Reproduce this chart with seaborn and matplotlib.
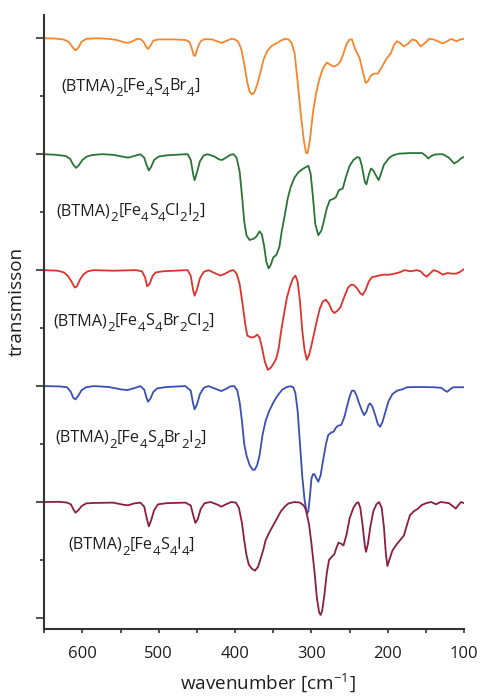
import pandas as pd
import seaborn as sns
import matplotlib.pyplot as plt
from matplotlib.ticker import MultipleLocator

# far-IR spectra: wavenumber [cm-1] and transmission relative to each baseline
wn_br4 = [650, 635, 625, 618, 613, 609, 605, 601, 595, 580, 565, 555, 545, 540, 534, 528, 523, 519, 516,
          514, 511, 507, 500, 480, 465, 460, 457, 454, 452, 449, 445, 440, 430, 424, 418, 412, 405, 400,
          396, 392, 388, 384, 381, 378, 375, 371, 367, 363, 358, 352, 346, 340, 335, 330, 326, 322, 318,
          314, 310, 307, 305, 302, 298, 294, 290, 285, 280, 276, 271, 266, 262, 258, 254, 250, 247, 243,
          240, 237, 233, 229, 226, 222, 218, 213, 208, 202, 196, 192, 188, 184, 179, 174, 168, 163, 157,
          152, 146, 140, 133, 128, 122, 117, 110, 105, 100]
t_br4 = [0, -0.003, -0.01, -0.03, -0.075, -0.105, -0.08, -0.03, -0.005, 0, -0.005, -0.015, -0.035, -0.04,
         -0.025, -0.005, -0.01, -0.04, -0.08, -0.092, -0.065, -0.02, -0.01, -0.01, -0.015, -0.03, -0.08,
         -0.15, -0.15, -0.08, -0.025, -0.008, -0.01, -0.025, -0.04, -0.025, -0.005, -0.01, -0.03, -0.09,
         -0.22, -0.38, -0.46, -0.485, -0.47, -0.4, -0.3, -0.19, -0.11, -0.065, -0.045, -0.02, -0.005,
         -0.01, -0.04, -0.13, -0.38, -0.65, -0.88, -0.99, -0.99, -0.88, -0.64, -0.48, -0.36, -0.26,
         -0.21, -0.225, -0.245, -0.23, -0.2, -0.13, -0.05, -0.01, -0.01, -0.09, -0.13, -0.17, -0.28,
         -0.385, -0.37, -0.32, -0.305, -0.305, -0.25, -0.18, -0.13, -0.06, -0.025, -0.04, -0.07, -0.05,
         -0.01, -0.02, -0.07, -0.045, -0.005, -0.01, -0.03, -0.045, -0.025, -0.005, -0.025, -0.01, -0.005]

wn_cli = [650, 635, 622, 616, 612, 608, 604, 600, 594, 588, 575, 560, 548, 540, 532, 524, 519, 516, 513,
          510, 506, 500, 490, 470, 462, 458, 455, 453, 450, 446, 441, 436, 427, 421, 417, 412, 406, 402,
          398, 394, 391, 388, 385, 381, 376, 372, 368, 365, 362, 359, 356, 353, 350, 346, 342, 339, 335,
          331, 327, 322, 317, 312, 307, 304, 301, 298, 295, 291, 287, 284, 280, 276, 271, 268, 264, 259,
          255, 250, 245, 240, 237, 234, 230, 228, 225, 222, 219, 215, 212, 209, 205, 198, 193, 185, 170,
          155, 150, 147, 143, 138, 128, 120, 113, 108, 104, 100]
t_cli = [0, -0.005, -0.015, -0.04, -0.09, -0.118, -0.09, -0.05, -0.02, -0.008, 0, -0.005, -0.02, -0.03,
         -0.015, 0, -0.03, -0.09, -0.14, -0.11, -0.05, -0.02, -0.01, -0.002, 0, -0.05, -0.17, -0.224,
         -0.16, -0.06, -0.01, 0, -0.02, -0.045, -0.05, -0.03, -0.005, 0, -0.03, -0.15, -0.353, -0.58,
         -0.7, -0.74, -0.73, -0.71, -0.665, -0.69, -0.79, -0.93, -0.985, -0.95, -0.89, -0.87, -0.8,
         -0.67, -0.53, -0.38, -0.28, -0.2, -0.155, -0.13, -0.11, -0.1, -0.17, -0.37, -0.6, -0.698,
         -0.66, -0.584, -0.47, -0.397, -0.385, -0.37, -0.31, -0.296, -0.2, -0.1, -0.05, -0.025, -0.03,
         -0.1, -0.24, -0.26, -0.18, -0.123, -0.14, -0.19, -0.224, -0.17, -0.09, -0.03, -0.009, 0.005,
         0.01, 0.01, -0.015, -0.037, -0.015, -0.002, 0, -0.03, -0.08, -0.06, -0.035, -0.023]

wn_brcl = [650, 632, 624, 619, 614, 610, 607, 603, 599, 593, 585, 560, 530, 522, 518, 515, 512, 508, 504,
           495, 470, 462, 458, 455, 453, 450, 446, 441, 435, 425, 419, 413, 406, 402, 398, 394, 390, 387,
           384, 379, 375, 371, 368, 365, 361, 357, 353, 349, 346, 343, 340, 336, 332, 328, 324, 321, 318,
           315, 312, 309, 306, 303, 300, 297, 293, 289, 285, 281, 277, 273, 270, 266, 262, 257, 252, 248,
           244, 240, 236, 233, 229, 225, 221, 214, 206, 199, 193, 185, 178, 170, 162, 157, 152, 149, 145,
           140, 135, 128, 122, 116, 110, 104, 100]
t_brcl = [0, -0.005, -0.02, -0.05, -0.1, -0.15, -0.14, -0.08, -0.04, -0.01, 0, -0.005, 0, -0.01, -0.06,
          -0.14, -0.12, -0.05, -0.02, -0.01, -0.002, 0, -0.05, -0.17, -0.22, -0.17, -0.07, -0.015, 0,
          -0.03, -0.047, -0.03, -0.005, 0, -0.03, -0.12, -0.3, -0.45, -0.565, -0.58, -0.578, -0.556,
          -0.58, -0.66, -0.79, -0.86, -0.84, -0.8, -0.76, -0.68, -0.54, -0.38, -0.234, -0.14, -0.07,
          -0.047, -0.1, -0.27, -0.52, -0.69, -0.774, -0.73, -0.65, -0.56, -0.44, -0.33, -0.27, -0.255,
          -0.29, -0.35, -0.37, -0.35, -0.32, -0.23, -0.15, -0.125, -0.13, -0.16, -0.2, -0.214, -0.17,
          -0.1, -0.062, -0.05, -0.039, -0.04, -0.033, -0.02, 0, -0.01, 0, -0.01, -0.045, -0.056, -0.03,
          0, -0.01, -0.039, -0.025, -0.03, -0.03, -0.01, 0.01]

wn_bri = [650, 630, 620, 615, 612, 609, 605, 601, 595, 585, 565, 548, 541, 533, 524, 519, 516, 514, 511,
          507, 502, 490, 465, 458, 455, 453, 450, 446, 441, 435, 425, 418, 412, 406, 401, 397, 394, 391,
          388, 385, 381, 377, 374, 371, 368, 364, 360, 355, 349, 343, 338, 333, 328, 324, 321, 318, 315,
          312, 309, 306, 304, 302, 300, 298, 296, 294, 291, 288, 285, 281, 278, 274, 271, 268, 265, 261,
          257, 254, 250, 247, 244, 241, 238, 234, 231, 228, 225, 223, 220, 216, 213, 210, 207, 203, 199,
          194, 188, 180, 175, 160, 140, 130, 125, 122, 118, 114, 100]
t_bri = [0, -0.003, -0.01, -0.05, -0.1, -0.115, -0.08, -0.035, -0.01, 0, -0.008, -0.03, -0.034, -0.02, 0,
         -0.03, -0.1, -0.135, -0.11, -0.05, -0.02, -0.008, 0, -0.04, -0.15, -0.2, -0.16, -0.07, -0.015,
         0, -0.025, -0.043, -0.025, -0.002, 0, -0.04, -0.14, -0.3, -0.5, -0.6, -0.68, -0.722, -0.72,
         -0.68, -0.6, -0.42, -0.3, -0.21, -0.13, -0.07, -0.03, -0.01, -0.002, -0.008, -0.06, -0.22,
         -0.5, -0.78, -0.98, -1.1, -1.08, -0.95, -0.8, -0.76, -0.76, -0.79, -0.825, -0.77, -0.65, -0.5,
         -0.422, -0.4, -0.394, -0.36, -0.342, -0.335, -0.27, -0.192, -0.09, -0.04, -0.04, -0.08, -0.14,
         -0.21, -0.25, -0.22, -0.16, -0.149, -0.18, -0.26, -0.33, -0.351, -0.31, -0.22, -0.13, -0.07,
         -0.04, -0.026, -0.01, -0.008, -0.01, -0.015, -0.04, -0.049, -0.025, -0.01, -0.01]

wn_i4 = [650, 630, 620, 615, 612, 609, 605, 601, 595, 585, 560, 545, 540, 532, 524, 519, 516, 513, 510,
         506, 501, 490, 465, 458, 455, 452, 449, 445, 440, 432, 424, 418, 412, 405, 399, 395, 391, 388,
         385, 382, 378, 374, 370, 367, 363, 360, 355, 350, 345, 340, 335, 330, 322, 315, 310, 307, 303,
         300, 296, 293, 290, 288, 286, 283, 280, 277, 273, 270, 267, 264.5, 261, 258, 254, 250, 245, 241,
         238.5, 236, 233, 230, 228.5, 226, 223, 219, 215, 211.5, 208, 205, 202.5, 200.5, 198, 194, 189,
         184, 179, 175, 171, 166, 161, 156, 150, 143, 137, 131, 125, 120, 114, 111, 108, 104, 100]
t_i4 = [0, 0.002, -0.005, -0.02, -0.06, -0.092, -0.07, -0.035, -0.012, -0.008, -0.005, -0.025, -0.028,
        -0.012, -0.005, -0.04, -0.13, -0.21, -0.16, -0.07, -0.02, -0.01, -0.005, -0.03, -0.11, -0.18,
        -0.15, -0.06, -0.01, 0, -0.02, -0.04, -0.02, 0, -0.005, -0.05, -0.18, -0.33, -0.46, -0.54,
        -0.575, -0.592, -0.56, -0.5, -0.41, -0.33, -0.26, -0.2, -0.14, -0.08, -0.04, -0.012, 0, -0.005,
        -0.03, -0.07, -0.2, -0.357, -0.6, -0.82, -0.95, -0.974, -0.94, -0.8, -0.62, -0.5, -0.47, -0.45,
        -0.39, -0.35, -0.36, -0.375, -0.28, -0.14, -0.05, -0.01, -0.003, -0.05, -0.2, -0.38, -0.43,
        -0.36, -0.22, -0.08, -0.02, 0, -0.05, -0.22, -0.45, -0.552, -0.5, -0.42, -0.37, -0.33, -0.29,
        -0.2, -0.114, -0.08, -0.06, -0.028, -0.01, 0, -0.02, 0, -0.005, -0.01, -0.04, -0.057, -0.03, 0,
        -0.01]

# compound labels: (text, is_subscript)
label_br4 = [('(BTMA)', 0), ('2', 1), ('[Fe', 0), ('4', 1), ('S', 0), ('4', 1), ('Br', 0), ('4', 1), (']', 0)]
label_cli = [('(BTMA)', 0), ('2', 1), ('[Fe', 0), ('4', 1), ('S', 0), ('4', 1), ('Cl', 0), ('2', 1),
             ('I', 0), ('2', 1), (']', 0)]
label_brcl = [('(BTMA)', 0), ('2', 1), ('[Fe', 0), ('4', 1), ('S', 0), ('4', 1), ('Br', 0), ('2', 1),
              ('Cl', 0), ('2', 1), (']', 0)]
label_bri = [('(BTMA)', 0), ('2', 1), ('[Fe', 0), ('4', 1), ('S', 0), ('4', 1), ('Br', 0), ('2', 1),
             ('I', 0), ('2', 1), (']', 0)]
label_i4 = [('(BTMA)', 0), ('2', 1), ('[Fe', 0), ('4', 1), ('S', 0), ('4', 1), ('I', 0), ('4', 1), (']', 0)]

offsets = [5, 4, 3, 2, 1]
colors = ['#f5862c', '#2b7436', '#e0322c', '#3b4fb3', '#8c1d44']
spectra = [(wn_br4, t_br4), (wn_cli, t_cli), (wn_brcl, t_brcl), (wn_bri, t_bri), (wn_i4, t_i4)]
labels = [label_br4, label_cli, label_brcl, label_bri, label_i4]
label_pos = [(627.5, 4.552), (633.5, 3.474), (637.5, 2.526), (635, 1.52), (618, 0.595)]

sns.set_style('ticks')
plt.rcParams['font.family'] = ['Open Sans', 'DejaVu Sans']
plt.rcParams['mathtext.default'] = 'regular'

TXT = '#1e1e1e'


def formula(ax, x, y, parts, size=11.7, sub_size=9.5, drop=3.8):
    prev = ax.text(x, y, parts[0][0], fontsize=size, va='baseline', ha='left', color=TXT)
    level = 0
    for txt, sub in parts[1:]:
        new_level = -drop if sub else 0
        prev = ax.annotate(txt, xy=(1, 0), xycoords=prev, xytext=(0, new_level - level),
                           textcoords='offset points', fontsize=sub_size if sub else size,
                           va='bottom', ha='left', color=TXT)
        level = new_level


fig = plt.figure(figsize=(4.8, 6.96), dpi=100)
ax = fig.add_axes([0.092, 0.0963, 0.875, 0.8817])

for (wn, t), off, col, lab, (lx, ly) in zip(spectra, offsets, colors, labels, label_pos):
    df = pd.DataFrame({'wavenumber': wn, 'transmission': [v + off for v in t]})
    sns.lineplot(data=df, x='wavenumber', y='transmission', color=col, linewidth=1.3,
                 sort=False, estimator=None, ax=ax)
    formula(ax, lx, ly, lab)

ax.set_xlim(650, 100)
ax.set_ylim(-0.095, 5.198)
ax.xaxis.set_major_locator(MultipleLocator(100))
ax.xaxis.set_minor_locator(MultipleLocator(50))
ax.yaxis.set_major_locator(MultipleLocator(1))
ax.yaxis.set_minor_locator(MultipleLocator(0.5))
ax.set_yticklabels([])
ax.tick_params(axis='x', which='both', length=3, width=1.2, labelsize=12, pad=9.5,
               direction='out', colors='#333333', labelcolor=TXT)
ax.tick_params(axis='y', which='major', length=6, width=1.2, direction='out', colors='#333333')
ax.tick_params(axis='y', which='minor', length=3, width=1.2, direction='out', colors='#333333')
sns.despine(ax=ax)
for s in ['left', 'bottom']:
    ax.spines[s].set_linewidth(1.5)
    ax.spines[s].set_color('#333333')
ax.set_xlabel(r'wavenumber [cm$^{-1}$]', fontsize=13.6, color=TXT, va='center')
ax.set_ylabel('transmisson', fontsize=13.6, color=TXT)
ax.xaxis.set_label_coords(0.533, -0.0875)
ax.yaxis.set_label_coords(-0.044, 0.533)

plt.savefig('out.png', dpi=100)
